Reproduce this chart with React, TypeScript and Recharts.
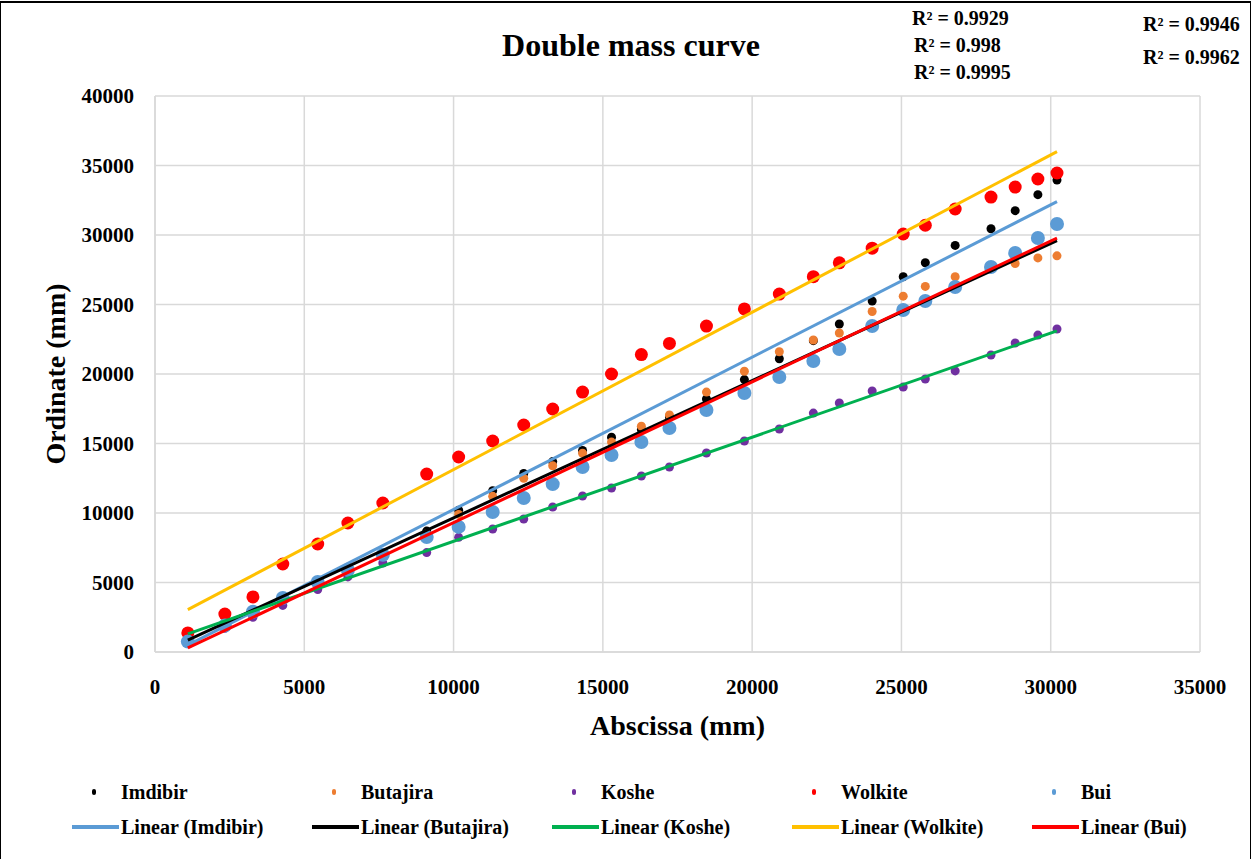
import { ScatterChart, Scatter, XAxis, YAxis, CartesianGrid } from 'recharts';

const FONT = "'Liberation Serif', 'Times New Roman', serif";

// cumulative abscissa (mm)
const xValues = [1100, 2340, 3280, 4280, 5450, 6460, 7630, 9100, 10170, 11310, 12350, 13320, 14320, 15290, 16290, 17230, 18470, 19740, 20910, 22050, 22920, 24020, 25060, 25800, 26800, 28000, 28810, 29570, 30210];

const imdibir = [900, 2000, 3000, 3950, 5000, 6100, 7100, 8700, 10200, 11600, 12850, 13700, 14500, 15450, 16000, 16900, 18200, 19600, 21100, 22400, 23600, 25250, 27000, 28000, 29250, 30450, 31750, 32900, 33950];
const butajira = [900, 2100, 3000, 4000, 5000, 6000, 7100, 8500, 9900, 11200, 12500, 13400, 14300, 15100, 16250, 17050, 18700, 20200, 21600, 22450, 22950, 24500, 25600, 26300, 27000, 27600, 27950, 28350, 28500];
const koshe = [700, 1700, 2500, 3350, 4500, 5400, 6400, 7150, 8250, 8850, 9570, 10430, 11220, 11800, 12660, 13310, 14320, 15180, 16040, 17190, 17910, 18780, 19060, 19640, 20220, 21370, 22230, 22800, 23240];
const wolkite = [1370, 2730, 3960, 6330, 7770, 9280, 10720, 12800, 14030, 15180, 16330, 17480, 18700, 20000, 21400, 22200, 23450, 24680, 25750, 27000, 28000, 29050, 30070, 30700, 31870, 32730, 33450, 34030, 34460];
const bui = [750, 1900, 2900, 3880, 5040, 5900, 7000, 8270, 9000, 10070, 11080, 12080, 13310, 14170, 15110, 16110, 17410, 18630, 19780, 20930, 21800, 23450, 24600, 25250, 26260, 27700, 28700, 29780, 30790];

// linear trend line end points
const trendX = [1100, 30210];
const imdibirTrend = [500, 32400];
const butajiraTrend = [860, 29600];
const kosheTrend = [1300, 23100];
const wolkiteTrend = [3050, 36000];
const buiTrend = [290, 29780];

const xTicks = [0, 5000, 10000, 15000, 20000, 25000, 30000, 35000];
const yTicks = [0, 5000, 10000, 15000, 20000, 25000, 30000, 35000, 40000];
const r2Left = ['R² = 0.9929', 'R² = 0.998', 'R² = 0.9995'];
const r2Right = ['R² = 0.9946', 'R² = 0.9962'];

const toPoints = (xs: number[], ys: number[]) => xs.map((x, i) => ({ x, y: ys[i] }));

const pointSeries = [
  { name: 'Imdibir', values: imdibir, color: '#000000', r: 4.5 },
  { name: 'Butajira', values: butajira, color: '#ED7D31', r: 4.5 },
  { name: 'Koshe', values: koshe, color: '#7030A0', r: 4.5 },
  { name: 'Wolkite', values: wolkite, color: '#FF0000', r: 6.5 },
  { name: 'Bui', values: bui, color: '#5B9BD5', r: 7 },
];

const trendSeries = [
  { name: 'Linear (Imdibir)', values: imdibirTrend, color: '#5B9BD5' },
  { name: 'Linear (Butajira)', values: butajiraTrend, color: '#000000' },
  { name: 'Linear (Koshe)', values: kosheTrend, color: '#00B050' },
  { name: 'Linear (Wolkite)', values: wolkiteTrend, color: '#FFC000' },
  { name: 'Linear (Bui)', values: buiTrend, color: '#FF0000' },
];

const tickStyle = { fill: '#000', fontSize: 21, fontWeight: 700, fontFamily: FONT };
const titleStyle = { fill: '#000', fontSize: 28, fontWeight: 700, fontFamily: FONT };
const textStyle = { position: 'absolute' as const, fontFamily: FONT, fontWeight: 700, color: '#000', whiteSpace: 'nowrap' as const, lineHeight: 1 };

function ChartLegend() {
  return (
    <>
      {pointSeries.map((s, i) => (
        <div key={s.name} style={{ ...textStyle, left: 92 + i * 240, top: 782, fontSize: 20, display: 'flex', alignItems: 'center' }}>
          <span style={{ display: 'inline-block', width: 4, height: 6, borderRadius: 3, background: s.color, marginRight: 25 }} />
          {s.name}
        </div>
      ))}
      {trendSeries.map((s, i) => (
        <div key={s.name} style={{ ...textStyle, left: 72 + i * 240, top: 817, fontSize: 20, display: 'flex', alignItems: 'center' }}>
          <span style={{ display: 'inline-block', width: 47, height: 4, background: s.color, marginRight: 2 }} />
          {s.name}
        </div>
      ))}
    </>
  );
}

export default function App() {
  return (
    <div style={{ position: 'absolute', left: 0, top: 0, width: 1253, height: 859, background: '#fff', overflow: 'hidden' }}>
      <div style={{ position: 'absolute', left: 0, top: 1, width: 1249, height: 870, borderTop: '2px solid #000', borderLeft: '1.5px solid #000', borderRight: '1.5px solid #000' }} />
      <ScatterChart width={1253} height={859} margin={{ top: 96, right: 53, bottom: 107, left: 0 }}>
        <CartesianGrid stroke="#d9d9d9" strokeWidth={1.5} />
        <XAxis
          type="number"
          dataKey="x"
          domain={[0, 35000]}
          ticks={xTicks}
          height={100}
          axisLine={{ stroke: '#d9d9d9', strokeWidth: 1.5 }}
          tickLine={false}
          tickMargin={21}
          tick={tickStyle}
          label={{ value: 'Abscissa (mm)', position: 'insideBottom', offset: 17, style: titleStyle }}
        />
        <YAxis
          type="number"
          dataKey="y"
          domain={[0, 40000]}
          ticks={yTicks}
          width={155}
          axisLine={{ stroke: '#d9d9d9', strokeWidth: 1.5 }}
          tickLine={false}
          tickMargin={15}
          tick={tickStyle}
          label={{ value: 'Ordinate (mm)', angle: -90, position: 'center', dx: -22, style: { ...titleStyle, textAnchor: 'middle' } }}
        />
        {pointSeries.map((s) => (
          <Scatter
            key={s.name}
            name={s.name}
            data={toPoints(xValues, s.values)}
            fill={s.color}
            isAnimationActive={false}
            shape={(p: any) => <circle cx={p.cx} cy={p.cy} r={s.r} fill={s.color} />}
          />
        ))}
        {trendSeries.map((s) => (
          <Scatter
            key={s.name}
            name={s.name}
            data={toPoints(trendX, s.values)}
            line={{ stroke: s.color, strokeWidth: 3 }}
            lineType="joint"
            isAnimationActive={false}
            shape={() => <g />}
          />
        ))}
      </ScatterChart>
      <div style={{ ...textStyle, left: 0, width: 1262, top: 29, fontSize: 32, textAlign: 'center' }}>Double mass curve</div>
      {r2Left.map((t, i) => (
        <div key={t} style={{ ...textStyle, left: i === 0 ? 912 : 914, top: 8 + i * 27, fontSize: 20 }}>{t}</div>
      ))}
      {r2Right.map((t, i) => (
        <div key={t} style={{ ...textStyle, left: 1143, top: 14 + i * 33, fontSize: 20 }}>{t}</div>
      ))}
      <ChartLegend />
    </div>
  );
}
